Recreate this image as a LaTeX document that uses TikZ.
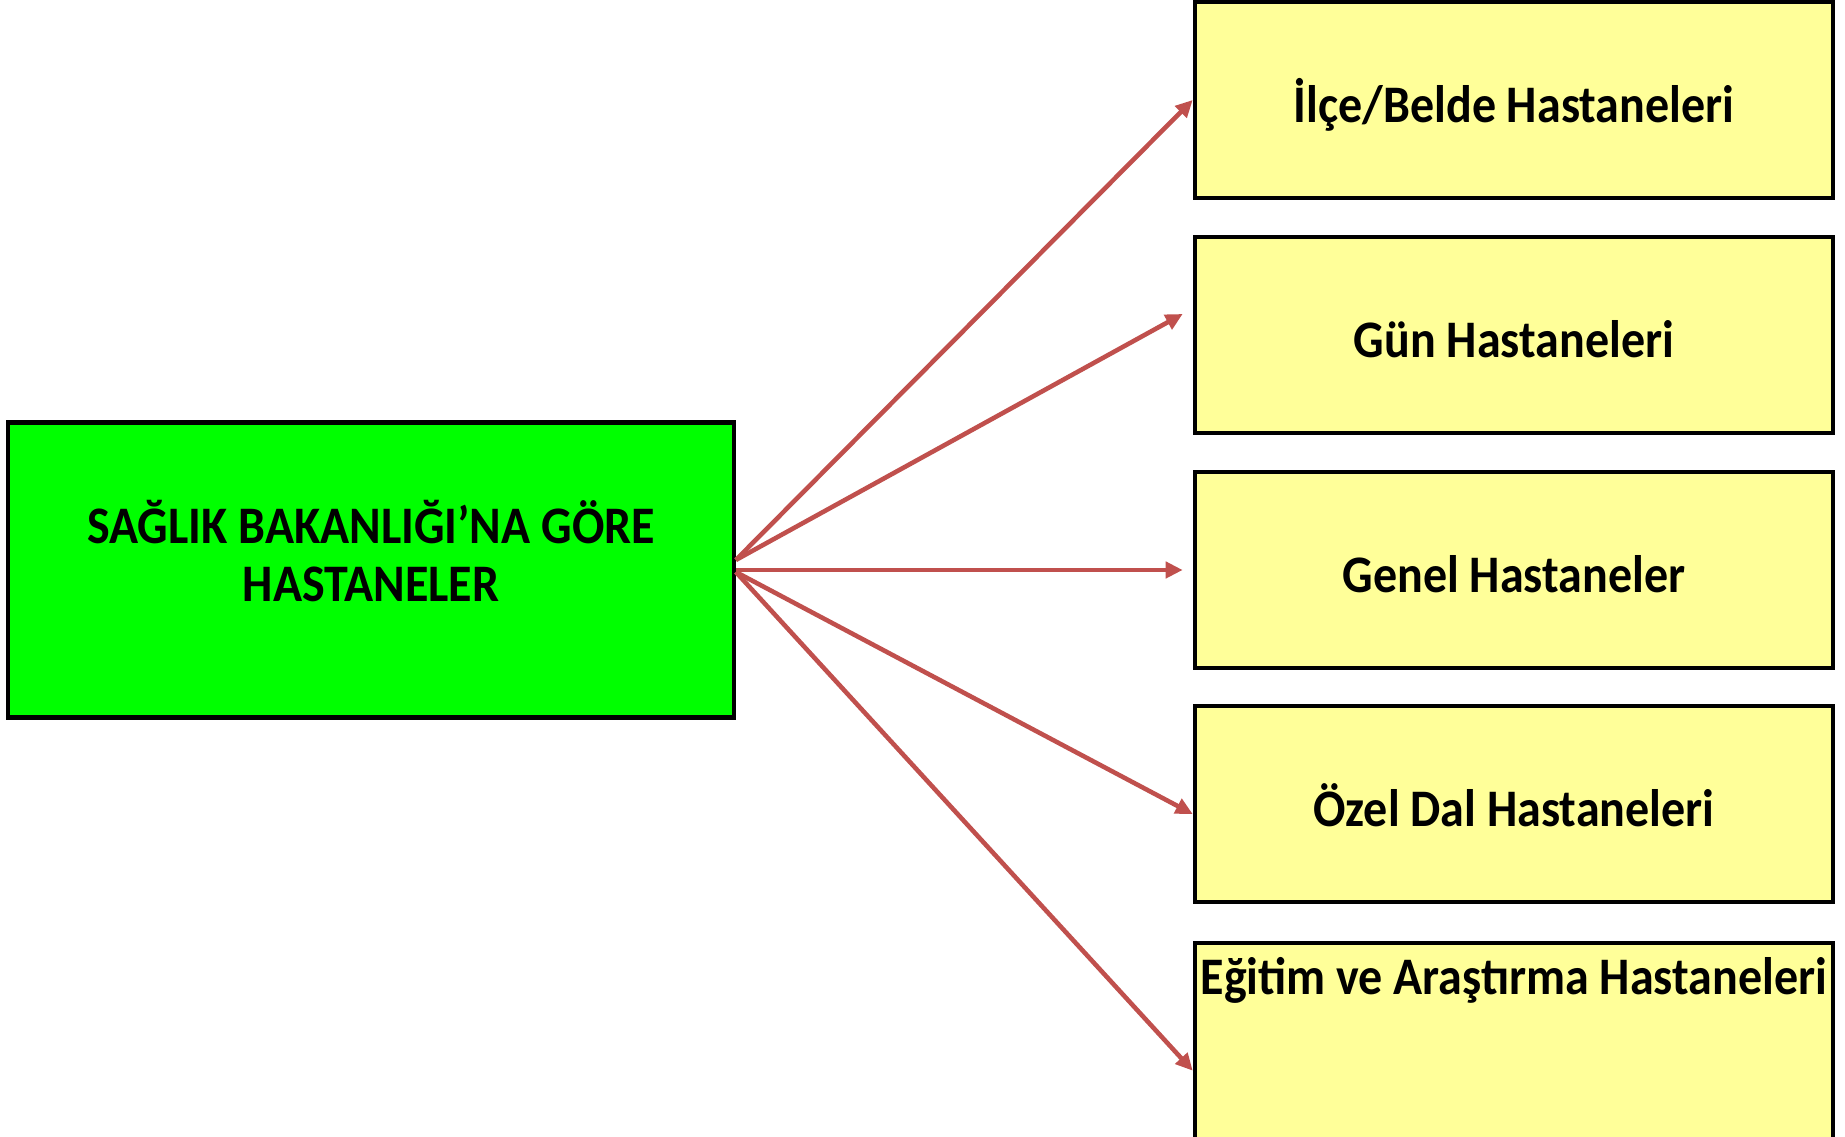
\documentclass[tikz,border=0pt]{standalone}
\usepackage{fontspec}
\setmainfont{Carlito}[FakeStretch=0.91]
\usetikzlibrary{arrows.meta}
\definecolor{boxgreen}{RGB}{0,255,0}
\definecolor{boxyellow}{RGB}{255,255,153}
\definecolor{arrowred}{RGB}{192,80,77}

\begin{document}
\begin{tikzpicture}[x=0.01cm, y=-0.01cm,
    mainbox/.style={draw=black, line width=1.2pt, fill=boxgreen, minimum width=7.25cm,
        minimum height=2.95cm, align=center, text depth=0.38cm,
        font=\fontsize{15}{16.5}\selectfont\bfseries},
    typebox/.style={draw=black, line width=1.2pt, fill=boxyellow, minimum width=6.38cm,
        minimum height=1.96cm, align=center, text height=0.44cm, text depth=0cm,
        font=\fontsize{15}{18}\selectfont\bfseries},
    link/.style={draw=arrowred, line width=1.3pt, -{Triangle[length=0.17cm, width=0.16cm]}}]
    \useasboundingbox (0,0) rectangle (1845,1137);
    % Main box
    \node[mainbox] (main) at (371,570) {SAĞLIK BAKANLIĞI’NA GÖRE\\HASTANELER};
    % Hospital types
    \node[typebox] (ilce) at (1514,100) {İlçe/Belde Hastaneleri};
    \node[typebox] (gun) at (1514,335) {Gün Hastaneleri};
    \node[typebox] (genel) at (1514,570) {Genel Hastaneler};
    \node[typebox] (ozel) at (1514,804) {Özel Dal Hastaneleri};
    \node[typebox, anchor=north, inner ysep=0.07cm, inner xsep=0.03cm, text depth=1.45cm]
        (egitim) at (1514,941) {Eğitim ve Araştırma Hastaneleri};
    % Arrows
    \foreach \to/\sy/\dx/\dy in {ilce/0.1cm/0cm/0cm, gun/0.1cm/-0.1cm/0.21cm,
        genel/0cm/-0.1cm/0cm, ozel/-0.02cm/0cm/-0.1cm, egitim/-0.02cm/0cm/-0.26cm} {
        \draw[link] ([yshift=\sy]main.east) -- ([xshift=\dx, yshift=\dy]\to.west);
    }
\end{tikzpicture}
\end{document}
